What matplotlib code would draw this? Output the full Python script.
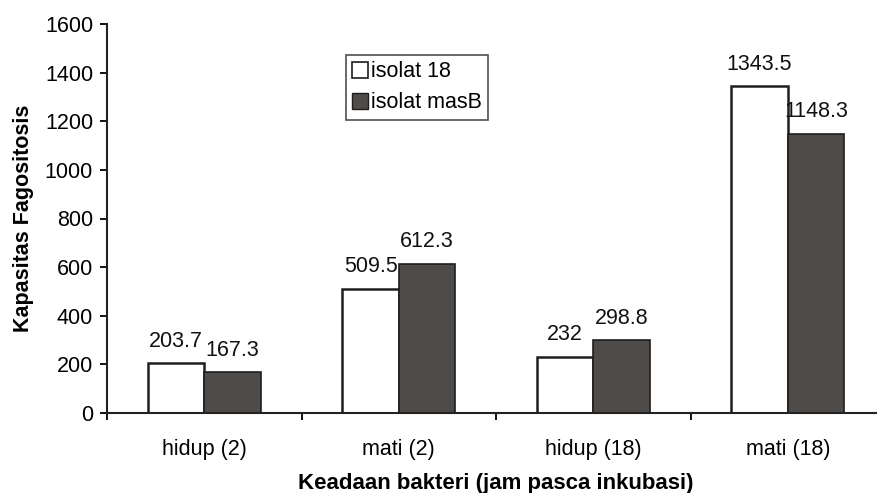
import numpy as np
import matplotlib.pyplot as plt
from matplotlib.patches import Patch

categories = ["hidup (2)", "mati (2)", "hidup (18)", "mati (18)"]
isolat_18 = [203.7, 509.5, 232, 1343.5]
isolat_masB = [167.3, 612.3, 298.8, 1148.3]
series_names = ["isolat 18", "isolat masB"]

plt.rcParams.update({
    "font.family": ["Liberation Sans", "DejaVu Sans"],
    "font.size": 15.5,
    "axes.linewidth": 1.5,
    "axes.edgecolor": "#222222",
})

W, H = 877, 493
fig = plt.figure(figsize=(W / 100, H / 100), dpi=100)
ax = fig.add_axes([107 / W, 80 / H, (885 - 107) / W, (413 - 24) / H])

x = np.arange(len(categories))
bw = 0.29
c_white = "white"
c_dark = "#4f4b49"
edge = "#1e1e1e"

ax.bar(x - bw / 2, isolat_18, bw, color=c_white, edgecolor=edge, linewidth=1.8)
ax.bar(x + bw / 2, isolat_masB, bw, color=c_dark, edgecolor=edge, linewidth=1.2)

for xs, vals in [(x - bw / 2, isolat_18), (x + bw / 2, isolat_masB)]:
    for xi, v in zip(xs, vals):
        ax.annotate(f"{v:g}", (xi, v), xytext=(0, 16), textcoords="offset points",
                    ha="center", va="center", fontsize=15.5, color="#111111")

ax.set_xlim(-0.5, len(categories) - 0.5)
ax.set_ylim(0, 1600)
ax.set_yticks(np.arange(0, 1601, 200))
ax.tick_params(axis="y", direction="out", length=5, width=1.3, pad=5, labelsize=15.5)

# boundaries get the tick marks, centres get the labels
ax.set_xticks(np.arange(-0.5, len(categories), 1))
ax.set_xticklabels([])
ax.set_xticks(x, minor=True)
ax.set_xticklabels(categories, minor=True)
ax.tick_params(axis="x", which="major", direction="out", length=5, width=1.3)
ax.tick_params(axis="x", which="minor", length=0, pad=19, labelsize=15.5)

for s in ["top", "right"]:
    ax.spines[s].set_visible(False)

ax.set_ylabel("Kapasitas Fagositosis", fontsize=15.5, fontweight="bold", labelpad=8)
ax.set_xlabel("Keadaan bakteri (jam pasca inkubasi)", fontsize=16,
              fontweight="bold", labelpad=9)

handles = [Patch(facecolor=c_white, edgecolor=edge, linewidth=1.2),
           Patch(facecolor=c_dark, edgecolor=edge, linewidth=1.0)]
leg = ax.legend(handles, series_names, loc="upper left",
                bbox_to_anchor=((346 - 107) / 778, (413 - 55) / 389),
                borderaxespad=0, fancybox=False, frameon=True,
                edgecolor="#222222", fontsize=15.5, handlelength=0.7,
                handleheight=0.75, handletextpad=0.15, labelspacing=0.45,
                borderpad=0.3)
leg.get_frame().set_linewidth(1.2)

fig.savefig("out.png", dpi=100, facecolor="white")
